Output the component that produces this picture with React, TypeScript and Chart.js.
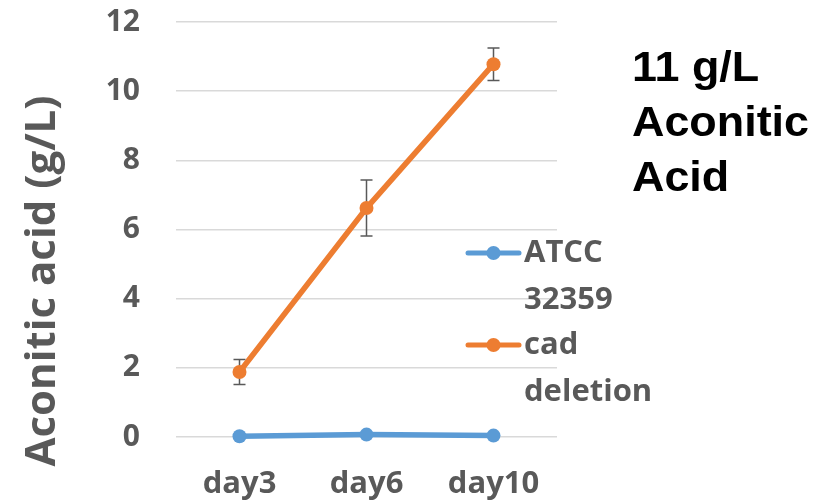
import React, { useEffect, useRef } from 'react';
import { Chart, registerables } from 'chart.js';
Chart.register(...registerables);

const categories = ['day3', 'day6', 'day10'];
const atccLabel = ['ATCC', '32359'];
const cadLabel = ['cad', 'deletion'];
const atccValues = [0.02, 0.07, 0.04];
const cadValues = [1.88, 6.62, 10.78];
const cadErrors = [0.36, 0.81, 0.47];
const yTicks = [0, 2, 4, 6, 8, 10, 12];
const yTitle = 'Aconitic acid (g/L)';
const noteLines = ['11 g/L', 'Aconitic', 'Acid'];

const BLUE = '#5b9bd5';
const ORANGE = '#ed7d31';
const GRAY = '#595959';
const FONT = '"Open Sans", sans-serif';

const errorBarPlugin = {
  id: 'errorBars',
  beforeDatasetsDraw(chart: any) {
    const ctx = chart.ctx;
    const meta = chart.getDatasetMeta(1);
    const y = chart.scales.y;
    ctx.save();
    ctx.strokeStyle = GRAY;
    ctx.lineWidth = 1.5;
    meta.data.forEach((pt: any, i: number) => {
      const v = cadValues[i];
      const e = cadErrors[i];
      const top = y.getPixelForValue(v + e);
      const bot = y.getPixelForValue(v - e);
      const x = pt.x;
      ctx.beginPath();
      ctx.moveTo(x, top);
      ctx.lineTo(x, bot);
      ctx.moveTo(x - 6, top);
      ctx.lineTo(x + 6, top);
      ctx.moveTo(x - 6, bot);
      ctx.lineTo(x + 6, bot);
      ctx.stroke();
    });
    ctx.restore();
  },
};

const legendPlugin = {
  id: 'customLegend',
  afterDraw(chart: any) {
    const ctx = chart.ctx;
    const items = [
      { color: BLUE, lines: atccLabel },
      { color: ORANGE, lines: cadLabel },
    ];
    ctx.save();
    items.forEach((it, k) => {
      const cy = 253 + k * 92;
      ctx.strokeStyle = it.color;
      ctx.lineWidth = 5;
      ctx.lineCap = 'round';
      ctx.beginPath();
      ctx.moveTo(468, cy);
      ctx.lineTo(519, cy);
      ctx.stroke();
      ctx.fillStyle = it.color;
      ctx.beginPath();
      ctx.arc(493.5, cy, 7, 0, Math.PI * 2);
      ctx.fill();
      ctx.fillStyle = GRAY;
      ctx.font = `bold 31px ${FONT}`;
      ctx.textAlign = 'left';
      ctx.textBaseline = 'middle';
      it.lines.forEach((t, j) => {
        ctx.fillText(t, 524, cy + j * 47);
      });
    });
    ctx.restore();
  },
};

const textPlugin = {
  id: 'texts',
  afterDraw(chart: any) {
    const ctx = chart.ctx;
    // y axis title
    ctx.save();
    ctx.font = `bold 42px ${FONT}`;
    ctx.fillStyle = GRAY;
    ctx.textAlign = 'center';
    ctx.textBaseline = 'middle';
    ctx.translate(43, 281);
    ctx.rotate(-Math.PI / 2);
    ctx.fillText(yTitle, 0, 0);
    ctx.restore();
    // note text
    ctx.save();
    ctx.font = 'bold 43px "Liberation Sans", Arial, sans-serif';
    ctx.fillStyle = '#000000';
    ctx.textAlign = 'left';
    ctx.textBaseline = 'alphabetic';
    const sx = 177 / ctx.measureText(noteLines[1]).width;
    noteLines.forEach((t, i) => {
      ctx.save();
      ctx.translate(632, 81 + i * 55);
      ctx.scale(sx, 1);
      ctx.fillText(t, 0, 0);
      ctx.restore();
    });
    ctx.restore();
  },
};

export default function App() {
  const ref = useRef<HTMLCanvasElement>(null);
  useEffect(() => {
    const chart = new Chart(ref.current as HTMLCanvasElement, {
      type: 'line',
      data: {
        labels: categories,
        datasets: [
          {
            label: atccLabel.join(' '),
            data: atccValues,
            borderColor: BLUE,
            backgroundColor: BLUE,
            borderWidth: 5.5,
            pointRadius: 7,
            pointHoverRadius: 7,
            pointBorderWidth: 0,
            tension: 0,
            clip: false,
          },
          {
            label: cadLabel.join(' '),
            data: cadValues,
            borderColor: ORANGE,
            backgroundColor: ORANGE,
            borderWidth: 5.5,
            pointRadius: 7,
            pointHoverRadius: 7,
            pointBorderWidth: 0,
            tension: 0,
            clip: false,
          },
        ],
      },
      options: {
        animation: false,
        responsive: false,
        maintainAspectRatio: false,
        layout: { autoPadding: false, padding: { top: 22, right: 273, left: 0, bottom: 0 } },
        plugins: {
          legend: { display: false },
          tooltip: { enabled: false },
        },
        scales: {
          x: {
            offset: true,
            grid: { display: false, drawTicks: false },
            border: { display: false },
            ticks: {
              color: GRAY,
              font: { family: FONT, size: 31, weight: 'bold' },
              padding: 29,
            },
            afterFit: (s: any) => {
              s.height = 65;
              s.paddingLeft = 0;
              s.paddingRight = 0;
            },
          },
          y: {
            min: 0,
            max: 12,
            afterBuildTicks: (s: any) => {
              s.ticks = yTicks.map((v) => ({ value: v }));
            },
            grid: { color: '#d9d9d9', lineWidth: 1.5, drawTicks: false },
            border: { display: false },
            ticks: {
              color: GRAY,
              font: { family: FONT, size: 30, weight: 'bold' },
              padding: 36,
            },
            title: { display: false },
            afterFit: (s: any) => {
              s.width = 176;
              s.paddingTop = 0;
              s.paddingBottom = 0;
            },
          },
        },
      },
      plugins: [errorBarPlugin, legendPlugin, textPlugin],
    });
    return () => chart.destroy();
  }, []);
  return (
    <div style={{ position: 'absolute', left: 0, top: 0, width: 830, height: 502, background: '#ffffff' }}>
      <canvas ref={ref} width={830} height={502} style={{ width: 830, height: 502 }} />
    </div>
  );
}
